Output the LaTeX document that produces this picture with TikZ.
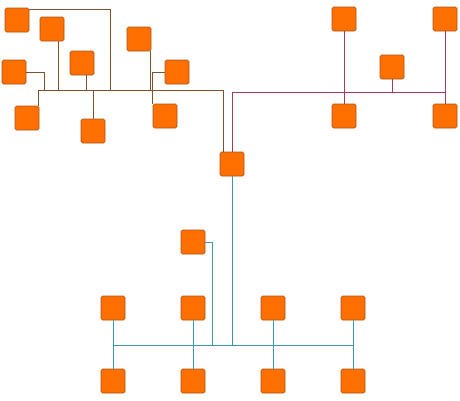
\documentclass[tikz,border=0pt]{standalone}
\usetikzlibrary{calc}
\definecolor{boxfill}{HTML}{FF7000}
\definecolor{boxedge}{HTML}{A8521A}
\definecolor{brownline}{HTML}{7D5230}
\definecolor{pinkline}{HTML}{A8385F}
\definecolor{tealline}{HTML}{3A98A8}
\tikzset{
  box/.style={draw=boxedge, fill=boxfill, rounded corners=1.5pt, minimum size=24pt, inner sep=0pt, line width=0.6pt},
  brownwire/.style={draw=brownline, line width=0.9pt},
  pinkwire/.style={draw=pinkline, line width=0.9pt},
  tealwire/.style={draw=tealline, line width=0.9pt}
}
\begin{document}
\begin{tikzpicture}[x=1pt, y=-1pt]
    \useasboundingbox (0,0) rectangle (460,400);

    % hub
    \node[box] (hub) at (232,164) {};

    % brown group
    \node[box] (a1) at (17,20) {};
    \node[box] (a2) at (52,29) {};
    \node[box] (a3) at (82,63) {};
    \node[box] (a4) at (14,72) {};
    \node[box] (a5) at (27,118) {};
    \node[box] (a6) at (93,131) {};
    \node[box] (a7) at (139,39) {};
    \node[box] (a8) at (177,72) {};
    \node[box] (a9) at (165,116) {};
    \coordinate (bl) at (38,90);
    \coordinate (br) at (223,90);
    \draw[brownwire] (bl) -- (br) -- (br |- hub.north);
    \draw[brownwire] ([yshift=-2pt]a1.north east) -| (110,90);
    \draw[brownwire] ([xshift=6pt]a2.south) -- ([xshift=6pt]a2.south |- bl);
    \draw[brownwire] ([xshift=4pt]a3.south) -- ([xshift=4pt]a3.south |- bl);
    \draw[brownwire] (a4.east) -| (44,90);
    \draw[brownwire] (bl) -- (bl |- a5.north);
    \draw[brownwire] (a6.north) -- (a6.north |- bl);
    \draw[brownwire] ([xshift=11pt]a7.south) -- ([xshift=11pt]a7.south |- bl);
    \draw[brownwire] (a8.west) -| (152,90);
    \draw[brownwire] (a9.north west) -- (a9.north west |- bl);

    % pink group
    \node[box] (b1) at (344,19) {};
    \node[box] (b2) at (344,116) {};
    \node[box] (b3) at (392,67) {};
    \node[box] (b4) at (445,19) {};
    \node[box] (b5) at (445,116) {};
    \coordinate (pl) at (232,92);
    \draw[pinkwire] (hub.north) -- (pl) -- (b4 |- pl);
    \draw[pinkwire] (b1.south) -- (b2.north);
    \draw[pinkwire] (b4.south) -- (b5.north);
    \draw[pinkwire] (b3.south) -- (b3.south |- pl);

    % teal group
    \node[box] (c1) at (193,242) {};
    \node[box] (ct1) at (113,308) {};
    \node[box] (ct2) at (193,308) {};
    \node[box] (ct3) at (273,308) {};
    \node[box] (ct4) at (353,308) {};
    \node[box] (cb1) at (113,381) {};
    \node[box] (cb2) at (193,381) {};
    \node[box] (cb3) at (273,381) {};
    \node[box] (cb4) at (353,381) {};
    \coordinate (tl) at (113,345);
    \draw[tealwire] (hub.south) -- (hub.south |- tl);
    \draw[tealwire] (tl) -- (ct4 |- tl);
    \draw[tealwire] (c1.east) -| (212,345);
    \draw[tealwire] (ct1.south) -- (cb1.north);
    \draw[tealwire] (ct2.south) -- (cb2.north);
    \draw[tealwire] (ct3.south) -- (cb3.north);
    \draw[tealwire] (ct4.south) -- (cb4.north);
\end{tikzpicture}
\end{document}
